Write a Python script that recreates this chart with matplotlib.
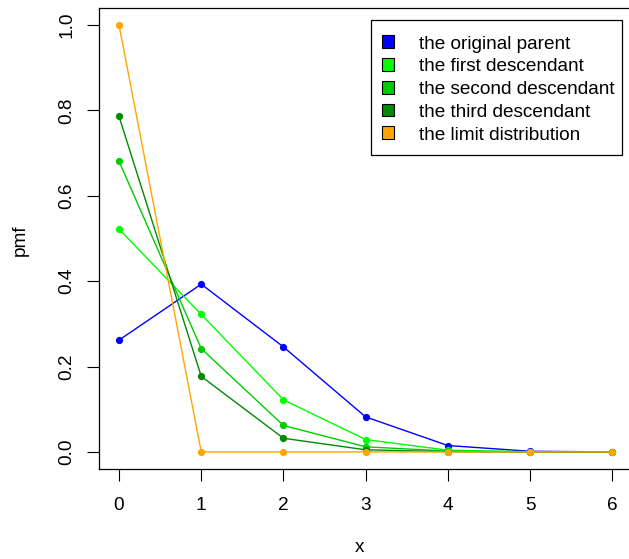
import matplotlib
matplotlib.use("Agg")
import matplotlib.pyplot as plt
from matplotlib.patches import Patch, Rectangle

x = [0, 1, 2, 3, 4, 5, 6]
parent = [0.262, 0.393, 0.246, 0.082, 0.015, 0.0015, 0.0001]
first = [0.522, 0.322, 0.122, 0.029, 0.004, 0.0004, 0.0]
second = [0.681, 0.242, 0.062, 0.012, 0.002, 0.0002, 0.0]
third = [0.786, 0.177, 0.032, 0.005, 0.0005, 0.0, 0.0]
limit = [1.0, 0.0, 0.0, 0.0, 0.0, 0.0, 0.0]

labels = ["the original parent", "the first descendant", "the second descendant",
          "the third descendant", "the limit distribution"]
colors = ["#0000FF", "#00FF00", "#00CD00", "#008B00", "#FFA500"]
series = [parent, first, second, third, limit]

plt.rcParams["font.family"] = ["Liberation Sans", "DejaVu Sans"]
fs = 13.7

W, H = 629, 559
fig = plt.figure(figsize=(W / 100, H / 100), dpi=100)
# plot box: left 99, right 632 (clipped by the figure edge), top 8, bottom 469
ax = fig.add_axes([99.3 / W, (H - 469) / H, (632 - 99.3) / W, (469 - 8) / H])

for vals, col in zip(series, colors):
    ax.plot(x, vals, color=col, lw=1.0, marker="o", markersize=5.2,
            markeredgewidth=0, clip_on=False)

ax.set_xlim(-0.24, 6.24)
ax.set_ylim(-0.04, 1.04)
ax.set_xticks(x)
ax.set_yticks([0.0, 0.2, 0.4, 0.6, 0.8, 1.0])
ax.set_yticklabels(["0.0", "0.2", "0.4", "0.6", "0.8", "1.0"], rotation=90, va="center")
ax.tick_params(axis="both", direction="out", length=8.5, width=0.8, labelsize=fs, color="black")
ax.tick_params(axis="x", pad=12)
ax.tick_params(axis="y", pad=8.7)
for sp in ax.spines.values():
    sp.set_linewidth(0.9)
    sp.set_color("black")

fig.text(360 / W, 1 - 548 / H, "x", fontsize=fs, ha="center", va="center")
fig.text(20 / W, 1 - 240 / H, "pmf", fontsize=fs, ha="center", va="center", rotation=90)

# legend entries without frame, box drawn separately to match R's legend box
handles = [Patch(facecolor=c, edgecolor="black", linewidth=0.8) for c in colors]
fig.legend(handles, labels, loc="upper left", bbox_to_anchor=(382 / W, 1 - 35.5 / H),
           fontsize=fs, frameon=False, borderaxespad=0, borderpad=0,
           handlelength=0.65, handleheight=0.65, handletextpad=1.3,
           labelspacing=0.3)
fig.add_artist(Rectangle((371 / W, 1 - 155 / H), (622 - 371) / W, (155 - 20) / H,
                         transform=fig.transFigure, facecolor="none",
                         edgecolor="black", linewidth=0.9))

fig.savefig("out.png", dpi=100)
